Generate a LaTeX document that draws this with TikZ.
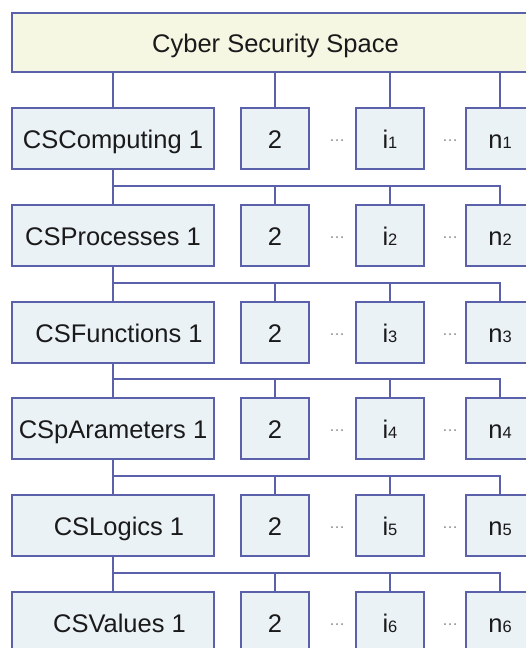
\documentclass[tikz,border=0pt]{standalone}
\usepackage{fontspec}
\setmainfont{Liberation Sans}
\definecolor{edge}{HTML}{5A60AA}
\definecolor{topfill}{HTML}{F5F7E3}
\definecolor{cellfill}{HTML}{EBF2F6}
\definecolor{ink}{HTML}{1A1A1A}
\definecolor{dotgray}{HTML}{8A8A8A}
% small index digit sitting on the baseline
\newcommand\idx[1]{{\fontsize{16.5}{16.5}\selectfont #1}}

\begin{document}
\begin{tikzpicture}[x=1pt,y=-1pt,
  box/.style={draw=edge, line width=1.8pt, fill=cellfill, minimum height=61pt,
    inner sep=0pt, text height=20pt, text depth=-1pt,
    font=\fontsize{25.5}{25.5}\selectfont, text=ink},
  wide/.style={box, minimum width=202pt},
  narrow/.style={box, minimum width=68pt},
  link/.style={draw=edge, line width=1.8pt},
  gap/.style={font=\fontsize{16}{16}\selectfont, text=dotgray, inner sep=0pt}]
\useasboundingbox (0,0) rectangle (526,648);
\fill[white] (0,0) rectangle (526,648);
\clip (0,0) rectangle (526,648);

% root of the hierarchy
\node[box, fill=topfill, minimum width=527pt, minimum height=59pt] (space) at (275.5,42.5) {Cyber Security Space};

% six layers, each with its first element and the elements 2, i, n
\foreach \r/\y/\lab in {1/138.5/CSComputing 1, 2/235.5/CSProcesses 1,
    3/332.5/\hspace*{12pt}CSFunctions 1, 4/428.5/CSpArameters 1,
    5/525.5/\hspace*{12pt}CSLogics 1, 6/622.5/\hspace*{13pt}CSValues 1}{
  \node[wide] (r\r a) at (113,\y) {\lab};
  \node[narrow] (r\r b) at (275,\y) {2};
  \node[narrow] (r\r c) at (390,\y) {i\idx{\r}};
  \node[narrow] (r\r d) at (500,\y) {n\idx{\r}};
  \node[gap] (r\r g1) at (337,\y+2) {…};
  \node[gap] (r\r g2) at (450,\y+2) {…};
}

% root to first layer
\foreach \c in {a,b,c,d}
  \draw[link] (space.south -| r1\c.north) -- (r1\c.north);

% each layer's first element feeds a bus to the next layer
\foreach \r [evaluate=\r as \n using int(\r+1)] in {1,...,5}{
  \draw[link] (r\r a.south) -- (r\n a.north);
  \coordinate (bus\r) at ([yshift=18pt]r\n a.north);
  \draw[link] (bus\r) -| (r\n d.north);
  \draw[link] (bus\r -| r\n b.north) -- (r\n b.north);
  \draw[link] (bus\r -| r\n c.north) -- (r\n c.north);
}
\end{tikzpicture}
\end{document}
